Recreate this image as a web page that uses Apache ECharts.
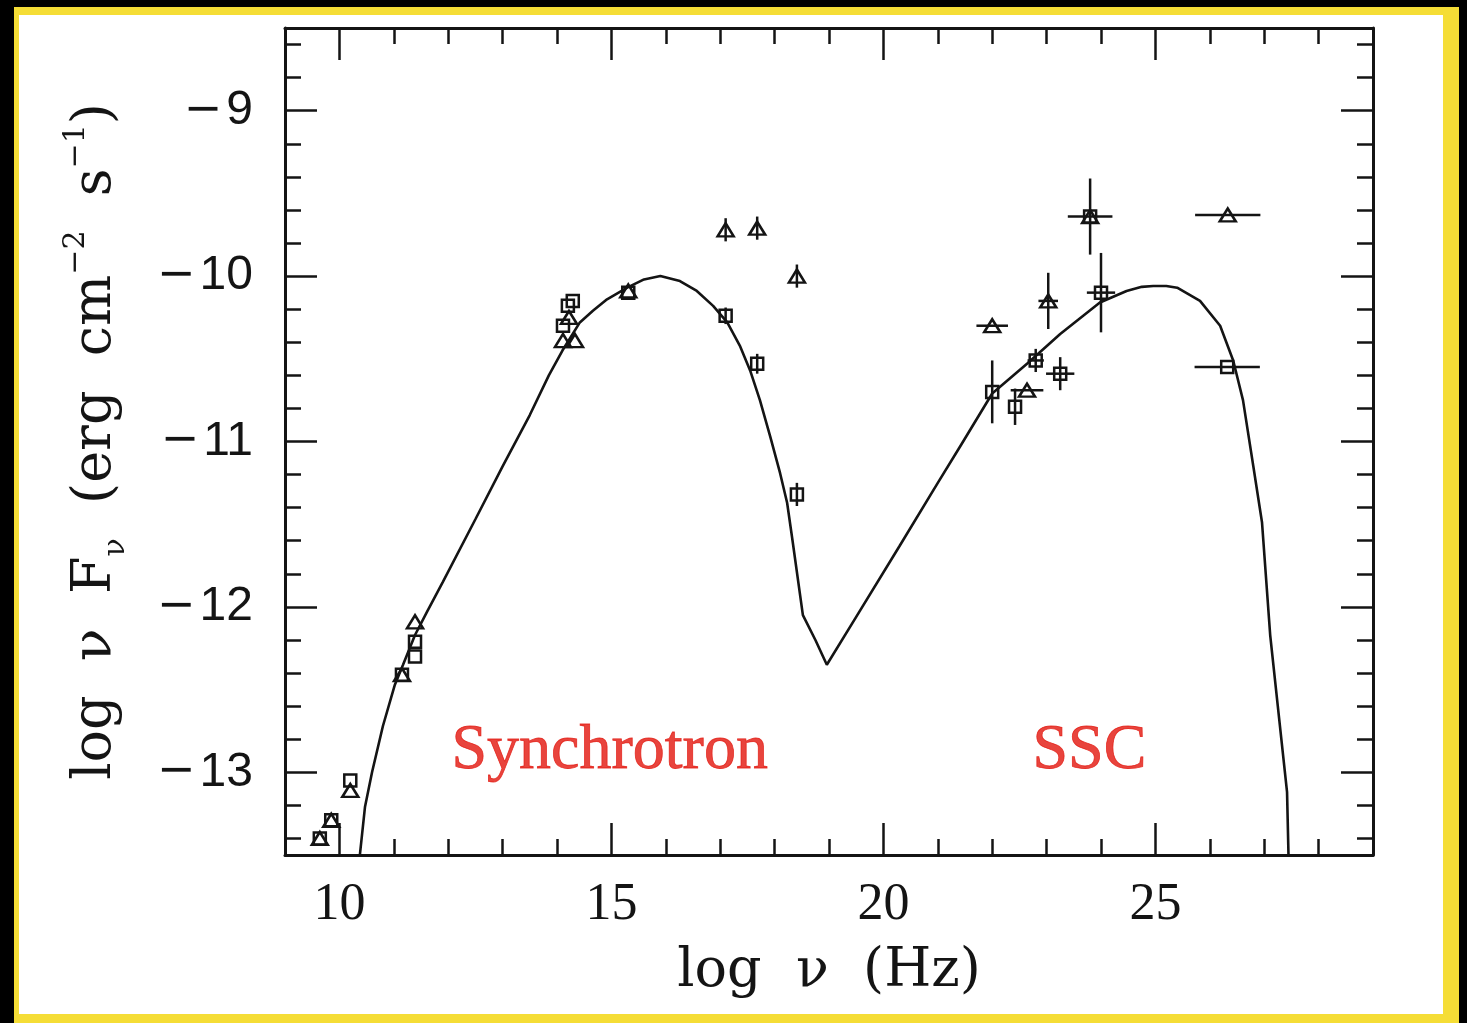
<!DOCTYPE html>
<html>
<head>
<meta charset="utf-8">
<script src="https://cdn.jsdelivr.net/npm/echarts@6/dist/echarts.min.js"></script>
<style>
html,body{margin:0;padding:0;background:#000;overflow:hidden;}
#chart{width:1467px;height:1023px;}
</style>
</head>
<body>
<div id="chart"></div>
<script>
// ---- model SED curve (synchrotron + SSC) ----
const modelX = [10.36, 10.47, 10.6, 10.8, 11.02, 11.17, 11.39, 11.61, 11.9, 12.5, 13.0, 13.5, 13.85, 14.1, 14.42, 14.66, 14.92, 15.29, 15.6, 15.9, 16.26, 16.57, 16.87, 17.13, 17.36, 17.55, 17.73, 17.92, 18.1, 18.23, 18.33, 18.52, 18.75, 18.96, 19.5, 20.3, 21.0, 21.41, 22.0, 22.64, 23.25, 23.98, 24.47, 24.75, 24.96, 25.2, 25.4, 25.82, 26.19, 26.43, 26.61, 26.8, 26.96, 27.11, 27.25, 27.42, 27.45];
const modelY = [-13.55, -13.21, -13.0, -12.72, -12.47, -12.35, -12.17, -12.03, -11.85, -11.47, -11.15, -10.84, -10.6, -10.45, -10.28, -10.21, -10.14, -10.07, -10.02, -10.0, -10.03, -10.09, -10.18, -10.28, -10.42, -10.57, -10.75, -10.97, -11.19, -11.37, -11.6, -12.05, -12.2, -12.35, -12.06, -11.63, -11.25, -11.03, -10.71, -10.53, -10.35, -10.16, -10.09, -10.065, -10.06, -10.06, -10.07, -10.15, -10.30, -10.51, -10.75, -11.15, -11.49, -12.17, -12.6, -13.12, -13.55];

// ---- observations: squares ----
const squareX    = [9.64, 9.85, 10.2, 11.15, 11.39, 11.39, 14.11, 14.20, 14.29, 15.31, 17.10, 17.68, 18.41, 22.00, 22.42, 22.80, 23.25, 23.80, 24.00, 26.32];
const squareY    = [-13.40, -13.29, -13.05, -12.41, -12.21, -12.30, -10.30, -10.18, -10.15, -10.10, -10.24, -10.53, -11.32, -10.70, -10.79, -10.51, -10.59, -9.64, -10.10, -10.55];
const squareXErr = [0, 0, 0, 0, 0, 0, 0, 0, 0, 0, 0, 0, 0, 0, 0, 0.15, 0.26, 0, 0.26, 0.60];
const squareYErr = [0, 0, 0, 0, 0, 0, 0, 0, 0, 0, 0.05, 0.06, 0.07, 0.19, 0.11, 0.07, 0.10, 0, 0.24, 0];

// ---- observations: triangles ----
const triangleX    = [9.64, 9.85, 10.20, 11.15, 11.39, 14.11, 14.33, 14.22, 15.31, 17.10, 17.68, 18.41, 22.00, 22.64, 23.03, 23.80, 26.33];
const triangleY    = [-13.40, -13.29, -13.11, -12.41, -12.09, -10.39, -10.39, -10.25, -10.09, -9.72, -9.71, -10.00, -10.30, -10.69, -10.15, -9.64, -9.63];
const triangleXErr = [0, 0, 0, 0, 0, 0, 0, 0, 0, 0, 0, 0, 0.29, 0.30, 0.18, 0.41, 0.60];
const triangleYErr = [0, 0, 0, 0, 0, 0, 0, 0, 0, 0.07, 0.07, 0.07, 0, 0, 0.17, 0.23, 0];

// ---- tick labels ----
const xTickLabels = [10, 15, 20, 25];
const yTickLabels = [-13, -12, -11, -10, -9];

// ---- annotations ----
const annotationText = ['Synchrotron', 'SSC'];
const annotationX = [12.07, 22.75];
const annotationY = [-13.07, -13.07];

const INK = '#141414';
const RED = '#e2150d';

function zip(xs, ys) { return xs.map((x, i) => [x, ys[i]]); }

function errorBars(xs, ys, xe, ye) {
  return {
    type: 'custom',
    xAxisIndex: 0, yAxisIndex: 0,
    z: 3,
    clip: true,
    silent: true,
    encode: { x: 0, y: 1 },
    data: xs.map((x, i) => [x, ys[i], xe[i], ye[i]]),
    renderItem: function (params, api) {
      const x = api.value(0), y = api.value(1), dx = api.value(2), dy = api.value(3);
      const style = { stroke: INK, lineWidth: 2.5, fill: null };
      const children = [];
      if (dx > 0) {
        const a = api.coord([x - dx, y]), b = api.coord([x + dx, y]);
        children.push({ type: 'line', shape: { x1: a[0], y1: a[1], x2: b[0], y2: b[1] }, style: style });
      }
      if (dy > 0) {
        const a = api.coord([x, y - dy]), b = api.coord([x, y + dy]);
        children.push({ type: 'line', shape: { x1: a[0], y1: a[1], x2: b[0], y2: b[1] }, style: style });
      }
      return { type: 'group', children: children };
    }
  };
}

const axisCommon = {
  type: 'value',
  splitLine: { show: false },
  axisLine: { show: true, onZero: false, lineStyle: { color: INK, width: 3 } },
  axisTick: { show: true, inside: true, length: 32, lineStyle: { color: INK, width: 2.5 } },
  minorTick: { show: true, splitNumber: 5, length: 16, lineStyle: { color: INK, width: 2.5 } },
  minorSplitLine: { show: false }
};

const chart = echarts.init(document.getElementById('chart'), null, { renderer: 'canvas' });

const option = {
  backgroundColor: '#000',
  animation: false,
  graphic: [
    { type: 'rect', z: -20, silent: true, shape: { x: 14, y: 7, width: 1445, height: 1016 }, style: { fill: '#f5dd36' } },
    { type: 'rect', z: -19, silent: true, shape: { x: 0, y: 0, width: 1467, height: 5 }, style: { fill: '#000' } },
    { type: 'rect', z: -18, silent: true, shape: { x: 19, y: 15, width: 1424, height: 999 }, style: { fill: '#ffffff' } }
  ],
  grid: { left: 285, top: 28, width: 1088, height: 827, containLabel: false },
  xAxis: [
    Object.assign({}, axisCommon, {
      position: 'bottom', min: 9, max: 29, splitNumber: 4,
      axisLabel: {
        show: true, margin: 24, color: INK, fontFamily: 'Liberation Serif', fontSize: 52,
        formatter: v => xTickLabels.includes(v) ? String(v) : ''
      },
      name: 'log  ν  (Hz)', nameLocation: 'middle', nameGap: 90,
      nameTextStyle: { fontFamily: 'DejaVu Serif', fontSize: 54, color: INK }
    }),
    Object.assign({}, axisCommon, {
      position: 'top', min: 9, max: 29, splitNumber: 4,
      axisLabel: { show: false }
    })
  ],
  yAxis: [
    Object.assign({}, axisCommon, {
      position: 'left', min: -13.5, max: -8.5, splitNumber: 5,
      axisLabel: {
        show: true, margin: 32, color: INK,
        formatter: v => yTickLabels.includes(v) ? '{m|\u2212}{d|' + Math.abs(v) + '}' : '',
        rich: {
          m: { fontFamily: 'DejaVu Sans', fontSize: 46, color: INK, padding: [0, 4, 0, 0] },
          d: { fontFamily: 'Liberation Sans', fontSize: 48, color: INK }
        }
      },
      name: '{t|log  ν  F}{sub|ν}{t|  (erg  cm}{sup|−2}{t|  s}{sup|−1}{t|)}',
      nameLocation: 'middle', nameGap: 154,
      nameTextStyle: {
        rich: {
          t:   { fontFamily: 'DejaVu Serif', fontSize: 54, color: INK, lineHeight: 60, verticalAlign: 'bottom', padding: [0, 0, 8, 0] },
          sub: { fontFamily: 'DejaVu Serif', fontSize: 30, color: INK, lineHeight: 34, verticalAlign: 'bottom' },
          sup: { fontFamily: 'DejaVu Serif', fontSize: 30, color: INK, lineHeight: 34, verticalAlign: 'bottom', padding: [0, 0, 40, 0] }
        }
      }
    }),
    Object.assign({}, axisCommon, {
      position: 'right', min: -13.5, max: -8.5, splitNumber: 5,
      axisLabel: { show: false }
    })
  ],
  series: [
    {
      name: 'model', type: 'line', xAxisIndex: 0, yAxisIndex: 0,
      data: zip(modelX, modelY), showSymbol: false, symbol: 'none', smooth: false,
      clip: true, z: 2, silent: true,
      lineStyle: { color: INK, width: 2.6 }
    },
    errorBars(squareX, squareY, squareXErr, squareYErr),
    errorBars(triangleX, triangleY, triangleXErr, triangleYErr),
    {
      name: 'squares', type: 'scatter', xAxisIndex: 0, yAxisIndex: 0,
      data: zip(squareX, squareY), symbol: 'rect', symbolSize: 12, z: 4, silent: true,
      itemStyle: { color: 'rgba(0,0,0,0)', borderColor: INK, borderWidth: 2.5, opacity: 1 }
    },
    {
      name: 'triangles', type: 'scatter', xAxisIndex: 0, yAxisIndex: 0,
      data: zip(triangleX, triangleY), symbol: 'triangle', symbolSize: [16, 13], z: 4, silent: true,
      itemStyle: { color: 'rgba(0,0,0,0)', borderColor: INK, borderWidth: 2.5, opacity: 1 }
    },
    {
      name: 'labels', type: 'scatter', xAxisIndex: 0, yAxisIndex: 0,
      data: annotationX.map((x, i) => ({ value: [x, annotationY[i]], name: annotationText[i] })),
      symbolSize: 1, itemStyle: { color: 'rgba(0,0,0,0)' }, z: 5, silent: true,
      label: {
        show: true, position: [0, 0], align: 'left', verticalAlign: 'bottom',
        formatter: p => p.name,
        fontFamily: 'Liberation Serif', fontSize: 64, color: RED,
        textBorderColor: RED, textBorderWidth: 0.8
      }
    }
  ]
};

chart.setOption(option);
</script>
</body>
</html>
